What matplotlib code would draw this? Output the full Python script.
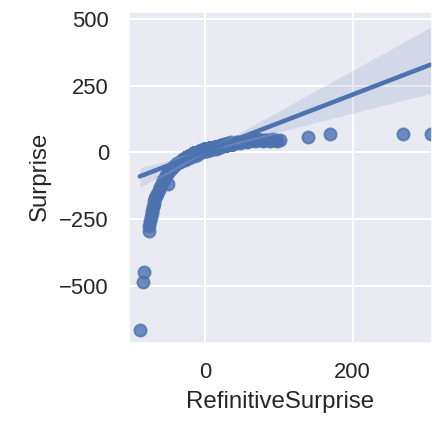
import numpy as np
import pandas as pd
import matplotlib
matplotlib.use('Agg')
from matplotlib import pyplot as plt
import matplotlib.ticker as mticker
import seaborn as sns

# values (individual points)
refinitive_surprise = [
    -89, -84, -83,
    -77, -76, -75, -74, -73, -72, -71, -70, -69, -68, -67, -65, -63, -61, -59, -57,
    -50, -55, -53, -51, -49, -47, -45, -42, -40, -38, -35, -32, -30, -27, -24, -21,
    -18, -15, -12, -10, -8, -5, -3, 0, 2, 4, 6, 8, 10, 13, 16, 20, 24, 28, 32, 36,
    40, 45, 50, 55, 60, 65, 70, 75, 80, 84, 90, 96, 102, 140, 169, 268, 306,
    -28, -25, -22, -19, -16, -14, -11, -9, -7, -6, -4, -2, -1, 1, 3, 5, 7, 9, 11,
    12, 14, 15, 17, 18, 19, 21, 22, 23, 25, 26, 29, 31, 33, 35, 38, 42, 47, 52,
    57, 62, 67, 72, 78, 85, 88, 92, 98,
]
surprise = [
    -665, -485, -447,
    -293, -275, -258, -240, -228, -218, -205, -192, -180, -172, -165, -154, -140, -128, -115, -105,
    -120, -95, -86, -78, -70, -63, -57, -50, -45, -40, -35, -30, -26, -22, -18, -14,
    -10, -6, -3, 0, 2, 5, 7, 10, 11, 13, 14, 16, 18, 20, 22, 25, 27, 30, 32, 34,
    36, 38, 40, 42, 44, 45, 47, 46, 45, 45, 46, 46, 45, 56, 68, 68, 68,
    -30, -20, -22, -12, -12, -4, -8, 4, 0, 8, 2, 12, 4, 14, 6, 16, 10, 18, 12,
    22, 14, 20, 16, 24, 20, 28, 22, 26, 26, 32, 28, 36, 30, 38, 32, 40, 36, 44,
    40, 48, 42, 50, 44, 48, 44, 50, 44,
]

# dense overlapping cluster around the origin (estimated point counts)
cluster_x = [-25, -20, -15, -10, -6, -3, 0, 3, 6, 10, 15, 20, 28, 36]
cluster_y = [-18, -10, -4, 2, 6, 8, 11, 13, 15, 18, 21, 24, 29, 33]
cluster_count = [20, 30, 50, 80, 100, 120, 140, 130, 110, 90, 60, 40, 20, 10]

df = pd.DataFrame({
    'RefinitiveSurprise': refinitive_surprise + list(np.repeat(cluster_x, cluster_count)),
    'Surprise': surprise + list(np.repeat(cluster_y, cluster_count)),
})

sns.set_theme(style='darkgrid')
plt.rcParams['font.family'] = ['Liberation Sans', 'DejaVu Sans']

fig = plt.figure(figsize=(3.0, 423 / 144), dpi=144)
ax = fig.add_axes([128 / 432, 1 - 342.7 / 423, 1 - 128 / 432, (342.7 - 11) / 423])
sns.regplot(data=df, x='RefinitiveSurprise', y='Surprise', ax=ax, seed=0)

ax.set_xlim(-105, 308)
ax.set_ylim(-712, 529)
ax.xaxis.set_major_locator(mticker.MultipleLocator(200))
ax.yaxis.set_major_locator(mticker.MultipleLocator(250))

fig.savefig('out.png', dpi=144)
